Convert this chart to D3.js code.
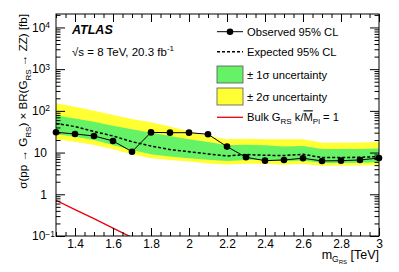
<!DOCTYPE html>
<meta charset="utf-8">
<script src="https://d3js.org/d3.v7.min.js"></script>
<style>
  body { margin: 0; background: #fff; }
  text { font-family: "Liberation Sans", Arial, sans-serif; fill: #000; }
</style>
<div id="chart"></div>
<script>
  // graviton mass points [TeV]
  const mass = [1.3, 1.4, 1.5, 1.6, 1.7, 1.8, 1.9, 2.0, 2.1, 2.2, 2.3, 2.4, 2.5, 2.6, 2.7, 2.8, 2.9, 3.0];
  // limits [fb]
  const observed = [30.7, 27.9, 25, 19, 10.5, 30.5, 30, 30, 27.5, 13.9, 7.7, 6.4, 6.65, 7.3, 6.3, 6.4, 6.65, 7.4];
  const expected = [50, 42, 32, 25, 18.2, 14.4, 11.8, 10.5, 9.3, 8.3, 9.0, 8.6, 8.5, 9.1, 7.6, 7.6, 7.7, 8.0];
  const plus1 = [77, 66, 55, 44, 36, 30, 25, 21, 18, 15, 15.5, 15, 14, 14.3, 12.2, 12.2, 12.2, 12.5];
  const minus1 = [27.5, 24, 20, 15.2, 11.5, 9.1, 8.0, 7.3, 6.7, 6.3, 6.6, 6.6, 6.2, 6.5, 5.6, 5.6, 5.7, 5.9];
  const plus2 = [152, 126, 101, 80, 64, 53, 42, 32, 25, 21, 21.5, 21, 20.8, 20.8, 17.3, 17.3, 17.5, 18];
  const minus2 = [21, 18.2, 15.2, 12, 9.1, 7.3, 6.6, 6.1, 5.5, 5.2, 5.4, 5.4, 5.1, 5.3, 4.8, 4.8, 4.9, 5.05];
  // Bulk RS theory curve
  const theoryMass = [1.3, 1.4, 1.5, 1.6, 1.7, 1.8, 1.9, 2.0];
  const theory = [0.72, 0.43, 0.26, 0.155, 0.092, 0.055, 0.033, 0.02];
  // tick labels
  const xTicks = [1.4, 1.6, 1.8, 2.0, 2.2, 2.4, 2.6, 2.8, 3.0];
  const yTicks = [0.1, 1, 10, 100, 1000, 10000];
  const yLabels = [["10", "\u22121"], ["1", ""], ["10", ""], ["10", "2"], ["10", "3"], ["10", "4"]];

  const width = 399, height = 272;
  const pL = 56, pR = 379, pT = 14, pB = 236;

  const x = d3.scaleLinear().domain([1.3, 3.0]).range([pL, pR]);
  const y = d3.scaleLog().domain([0.1, 21000]).range([pB, pT]);

  const svg = d3.select("#chart").append("svg")
    .attr("width", width).attr("height", height);

  svg.append("clipPath").attr("id", "clip")
    .append("rect").attr("x", pL).attr("y", pT)
    .attr("width", pR - pL).attr("height", pB - pT);

  const plot = svg.append("g").attr("clip-path", "url(#clip)");

  const rows = mass.map((m, i) => ({ m, obs: observed[i], exp: expected[i],
    p1: plus1[i], m1: minus1[i], p2: plus2[i], m2: minus2[i] }));

  // bands
  const band = (hi, lo) => d3.area().x(d => x(d.m)).y0(d => y(d[lo])).y1(d => y(d[hi]));
  plot.append("path").datum(rows).attr("d", band("p2", "m2")).attr("fill", "#ffff33");
  plot.append("path").datum(rows).attr("d", band("p1", "m1")).attr("fill", "#66f266");

  // expected
  plot.append("path").datum(rows)
    .attr("d", d3.line().x(d => x(d.m)).y(d => y(d.exp)))
    .attr("fill", "none").attr("stroke", "#000").attr("stroke-width", 1.5)
    .attr("stroke-dasharray", "3,2");

  // theory
  plot.append("path").datum(theoryMass.map((m, i) => [m, theory[i]]))
    .attr("d", d3.line().x(d => x(d[0])).y(d => y(d[1])))
    .attr("fill", "none").attr("stroke", "#e8000b").attr("stroke-width", 1.3);

  // observed
  plot.append("path").datum(rows)
    .attr("d", d3.line().x(d => x(d.m)).y(d => y(d.obs)))
    .attr("fill", "none").attr("stroke", "#000").attr("stroke-width", 1);
  svg.selectAll("circle.obs").data(rows).join("circle")
    .attr("class", "obs")
    .attr("cx", d => x(d.m)).attr("cy", d => y(d.obs)).attr("r", 3.3).attr("fill", "#000");

  // axes
  const yMinor = [];
  [0.1, 1, 10, 100, 1000, 10000].forEach(d => {
    for (let k = 2; k <= 9; k++) if (d * k <= 21000) yMinor.push(d * k);
  });
  const xMinor = d3.range(26, 61).map(i => +(i * 0.05).toFixed(2));

  function styleAxis(g) {
    g.select(".domain").remove();
    g.selectAll("line").attr("stroke", "#000");
    g.selectAll("text").style("font-family", "Liberation Sans, Arial, sans-serif");
  }

  // bottom
  svg.append("g").attr("transform", `translate(0,${pB})`)
    .call(d3.axisBottom(x).tickValues(xMinor).tickSizeInner(-4).tickSizeOuter(0).tickFormat(""))
    .call(styleAxis);
  svg.append("g").attr("transform", `translate(0,${pB})`)
    .call(d3.axisBottom(x).tickValues(xTicks).tickSizeInner(-8).tickSizeOuter(0).tickPadding(3.5)
      .tickFormat(d => d3.format("")(+d.toFixed(1))))
    .call(styleAxis)
    .selectAll("text").attr("font-size", 12);
  // top
  svg.append("g").attr("transform", `translate(0,${pT})`)
    .call(d3.axisTop(x).tickValues(xMinor).tickSizeInner(-4).tickSizeOuter(0).tickFormat(""))
    .call(styleAxis);
  svg.append("g").attr("transform", `translate(0,${pT})`)
    .call(d3.axisTop(x).tickValues(xTicks).tickSizeInner(-8).tickSizeOuter(0).tickFormat(""))
    .call(styleAxis);

  // left
  svg.append("g").attr("transform", `translate(${pL},0)`)
    .call(d3.axisLeft(y).tickValues(yMinor).tickSizeInner(-4.5).tickSizeOuter(0).tickFormat(""))
    .call(styleAxis);
  const yAxis = svg.append("g").attr("transform", `translate(${pL},0)`)
    .call(d3.axisLeft(y).tickValues(yTicks).tickSizeInner(-9).tickSizeOuter(0).tickPadding(9)
      .tickFormat((d, i) => yLabels[i][0]))
    .call(styleAxis);
  yAxis.selectAll("text").attr("font-size", 12).each(function (d, i) {
    const sup = yLabels[i][1];
    if (!sup) return;
    const t = d3.select(this).attr("text-anchor", "start").attr("x", -24);
    t.append("tspan").attr("dy", "-0.45em").attr("font-size", 8.5).text(sup);
  });
  // right
  svg.append("g").attr("transform", `translate(${pR},0)`)
    .call(d3.axisRight(y).tickValues(yMinor).tickSizeInner(-4.5).tickSizeOuter(0).tickFormat(""))
    .call(styleAxis);
  svg.append("g").attr("transform", `translate(${pR},0)`)
    .call(d3.axisRight(y).tickValues(yTicks).tickSizeInner(-9).tickSizeOuter(0).tickFormat(""))
    .call(styleAxis);

  // frame
  svg.append("rect").attr("x", pL).attr("y", pT)
    .attr("width", pR - pL).attr("height", pB - pT)
    .attr("fill", "none").attr("stroke", "#000").attr("stroke-width", 1);

  // axis titles
  const xt = svg.append("text").attr("x", pR).attr("y", 259)
    .attr("text-anchor", "end").attr("font-size", 12.5);
  xt.append("tspan").text("m");
  xt.append("tspan").attr("dy", 3).attr("font-size", 8.5).text("G");
  xt.append("tspan").attr("dy", 2).attr("font-size", 6).text("RS");
  xt.append("tspan").attr("dy", -5).text(" [TeV]");

  const yt = svg.append("text").attr("transform", `translate(27,${pT}) rotate(-90)`)
    .attr("text-anchor", "end").attr("font-size", 11.6);
  yt.append("tspan").text("\u03c3(pp \u2192 G");
  yt.append("tspan").attr("dy", 3.5).attr("font-size", 8).text("RS");
  yt.append("tspan").attr("dy", -3.5).text(") \u00d7 BR(G");
  yt.append("tspan").attr("dy", 3.5).attr("font-size", 8).text("RS");
  yt.append("tspan").attr("dy", -3.5).text(" \u2192 ZZ) [fb]");

  // ATLAS label
  svg.append("text").attr("x", 72).attr("y", 34).attr("font-size", 12.5)
    .attr("font-weight", "bold").attr("font-style", "italic").text("ATLAS");
  const lum = svg.append("text").attr("x", 72).attr("y", 56).attr("font-size", 11.5);
  lum.append("tspan").text("\u221as = 8 TeV, 20.3 fb");
  lum.append("tspan").attr("dy", -5).attr("font-size", 8).text("-1");

  // legend
  const lx0 = 217, lx1 = 243, tx = 247;
  const lg = svg.append("g");
  lg.append("line").attr("x1", lx0).attr("x2", lx1).attr("y1", 31.7).attr("y2", 31.7)
    .attr("stroke", "#000").attr("stroke-width", 1);
  lg.append("circle").attr("cx", (lx0 + lx1) / 2).attr("cy", 31.7).attr("r", 3.3).attr("fill", "#000");
  lg.append("line").attr("x1", lx0).attr("x2", lx1).attr("y1", 51.7).attr("y2", 51.7)
    .attr("stroke", "#000").attr("stroke-width", 1.5).attr("stroke-dasharray", "3,2");
  lg.append("rect").attr("x", lx0).attr("y", 66).attr("width", lx1 - lx0).attr("height", 17)
    .attr("fill", "#66f266").attr("stroke", "#555").attr("stroke-width", 0.8);
  lg.append("rect").attr("x", lx0).attr("y", 88).attr("width", lx1 - lx0).attr("height", 17)
    .attr("fill", "#ffff33").attr("stroke", "#555").attr("stroke-width", 0.8);
  lg.append("line").attr("x1", lx0).attr("x2", lx1).attr("y1", 117.3).attr("y2", 117.3)
    .attr("stroke", "#e8000b").attr("stroke-width", 1.3);

  const legText = (yy) => lg.append("text").attr("x", tx).attr("y", yy + 4).attr("font-size", 11.2);
  legText(31.7).text("Observed 95% CL");
  legText(51.7).text("Expected 95% CL");
  legText(75).text("\u00b1 1\u03c3 uncertainty");
  legText(96.7).text("\u00b1 2\u03c3 uncertainty");
  const bulk = legText(117.3);
  bulk.append("tspan").text("Bulk G");
  bulk.append("tspan").attr("dy", 3).attr("font-size", 8).text("RS");
  bulk.append("tspan").attr("dy", -3).text(" k/");
  bulk.append("tspan").attr("text-decoration", "overline").text("M");
  bulk.append("tspan").attr("dy", 3).attr("font-size", 8).text("Pl");
  bulk.append("tspan").attr("dy", -3).text(" = 1");
</script>
